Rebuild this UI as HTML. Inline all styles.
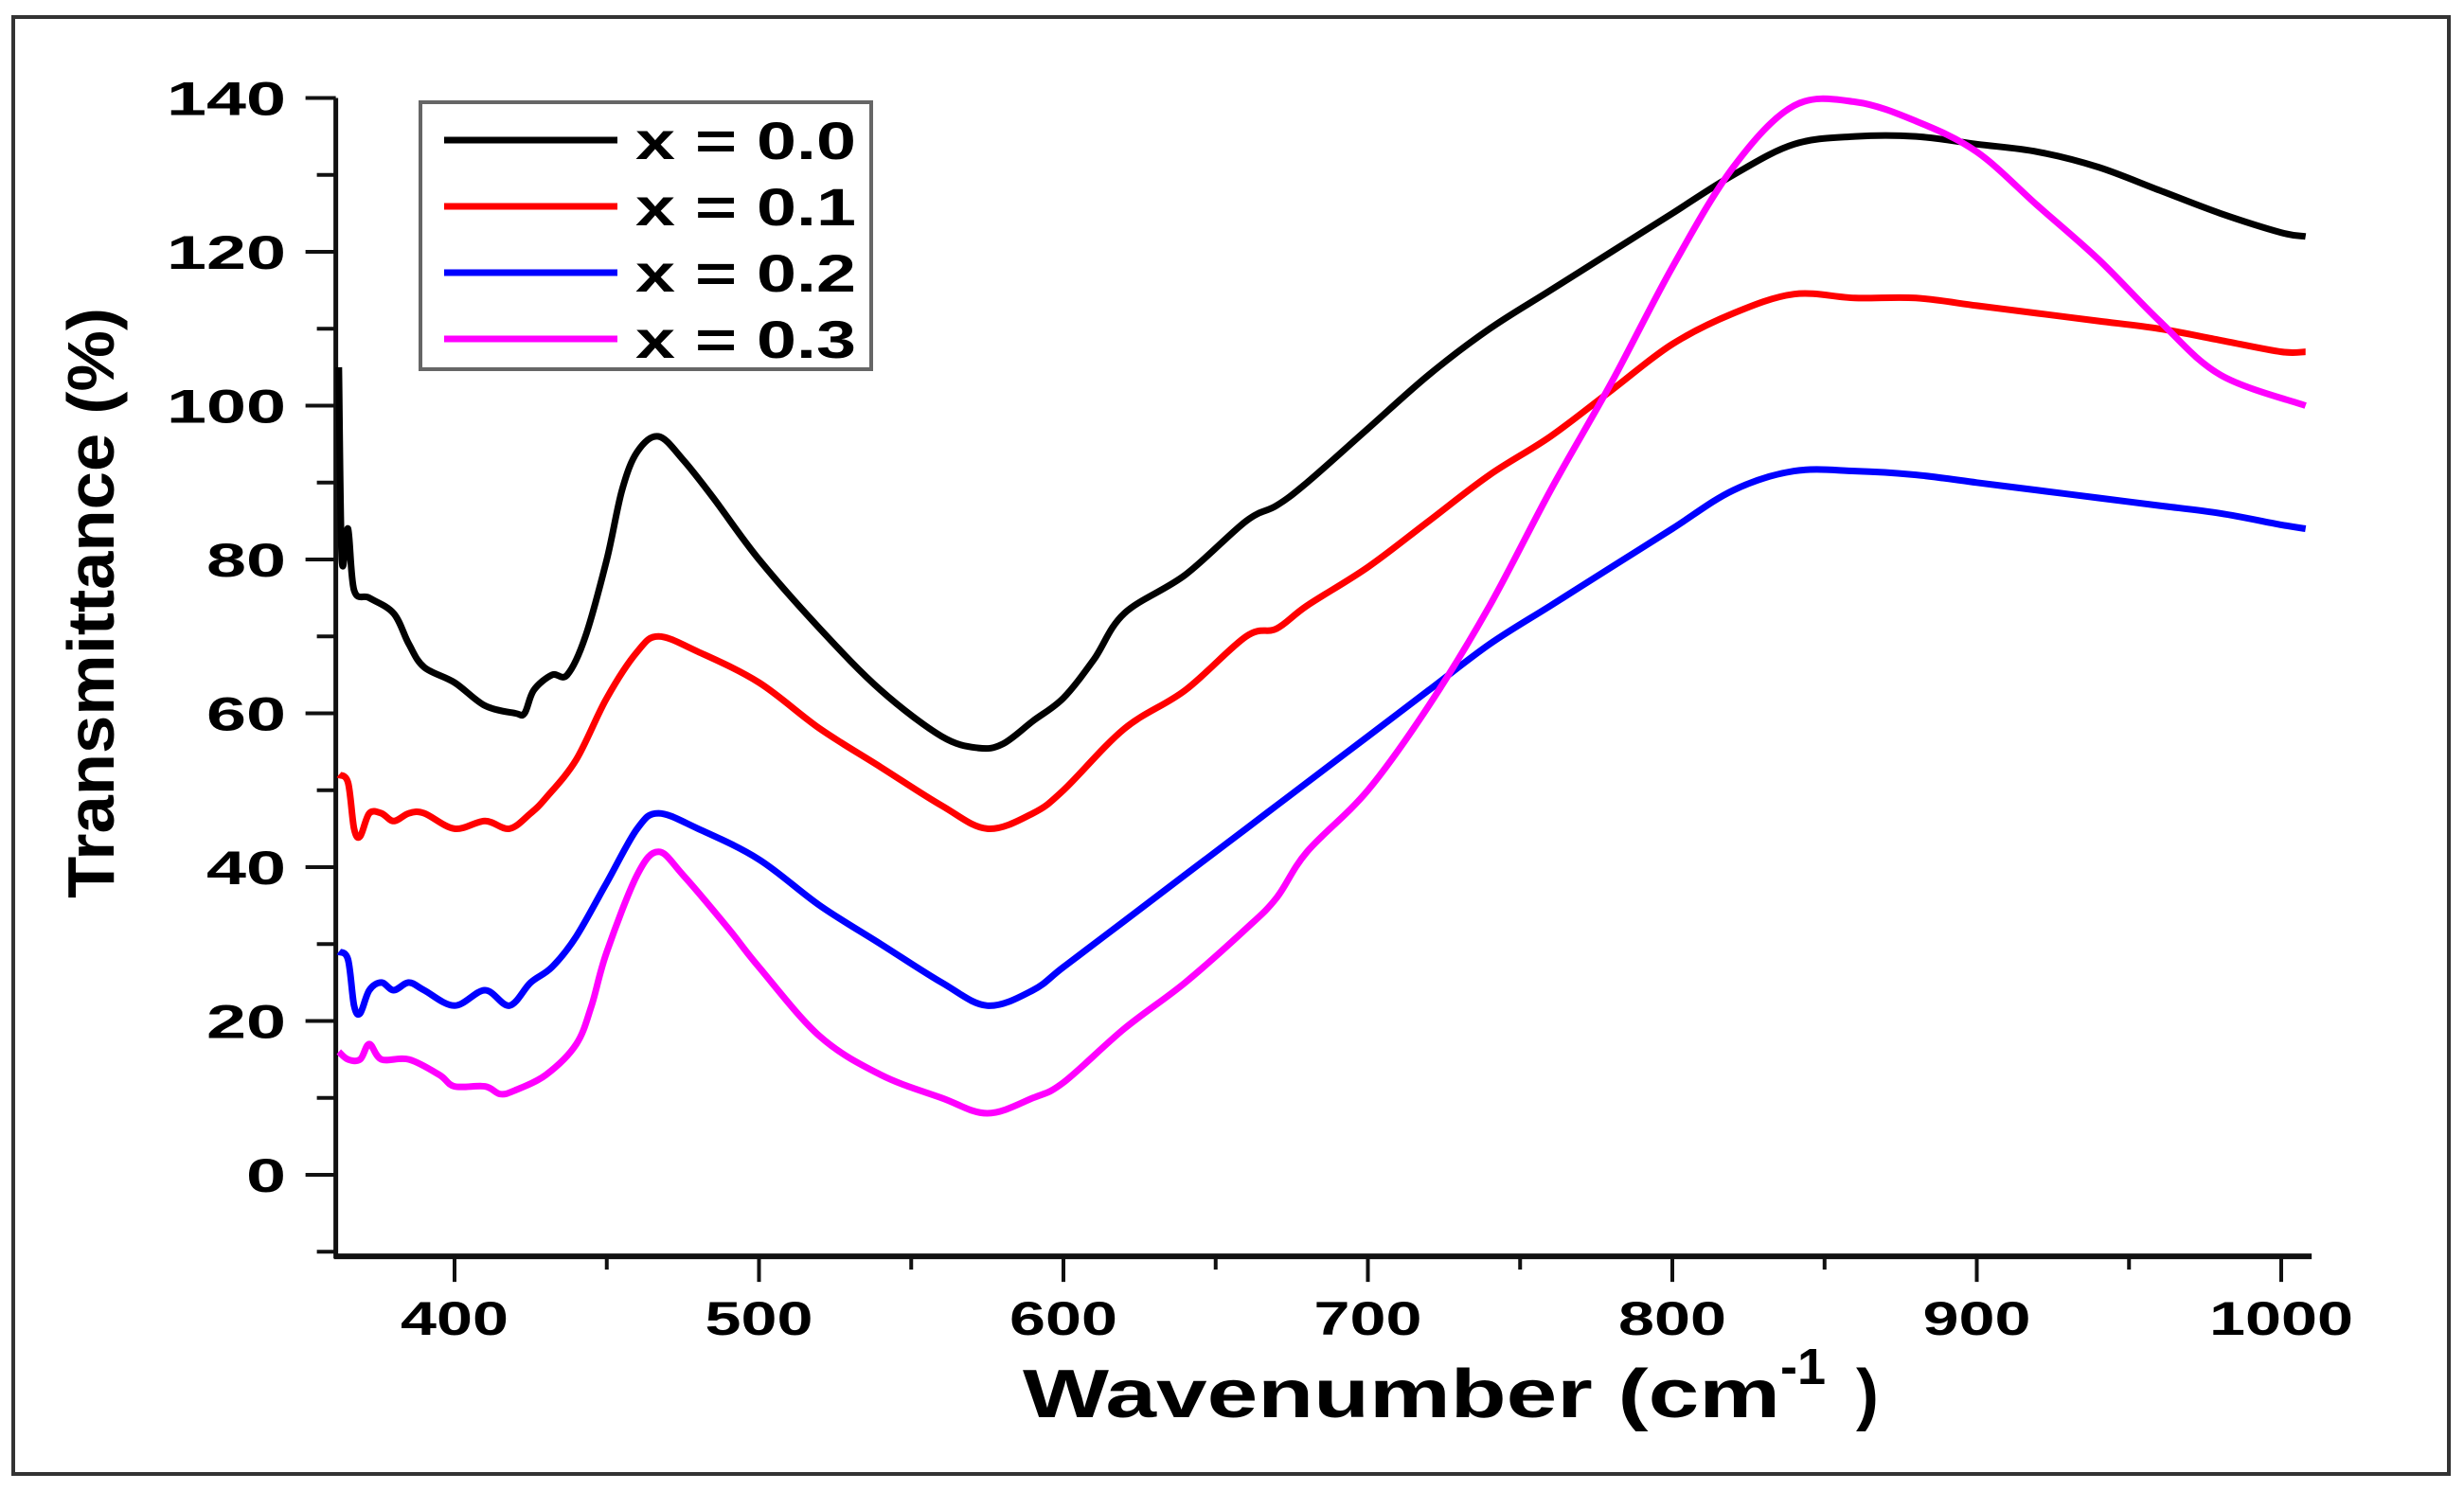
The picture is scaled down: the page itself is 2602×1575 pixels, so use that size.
<!DOCTYPE html>
<html><head><meta charset="utf-8"><style>
html,body{margin:0;padding:0;background:#fff}
svg{display:block}
text{font-family:"Liberation Sans",Arial,sans-serif;font-weight:bold}
</style></head><body>
<svg id="chart" width="2602" height="1575" viewBox="0 0 2602 1575" xmlns="http://www.w3.org/2000/svg">
<rect x="14" y="18" width="2572" height="1539" fill="#fff" stroke="#333" stroke-width="4"/>
<g id="axes"></g>
<g id="series"></g>
<text x="1080" y="1497" font-size="72" textLength="800" lengthAdjust="spacingAndGlyphs">Wavenumber (cm</text>
<text x="1880" y="1462" font-size="54">-1</text>
<text x="1960" y="1497" font-size="72">)</text>
<text transform="translate(120,637) rotate(-90)" font-size="70" text-anchor="middle" textLength="624" lengthAdjust="spacingAndGlyphs">Transmittance (%)</text>
<g>
<rect x="444" y="108" width="476" height="282" fill="#fff" stroke="#666" stroke-width="4"/>
<g id="legend"></g>
</g>
</svg>
<script>
const xTicks=[400,500,600,700,800,900,1000];
const yTicks=[0,20,40,60,80,100,120,140];
const seriesNames=["x = 0.0","x = 0.1","x = 0.2","x = 0.3"];
const seriesColors=["#000000","#ff0000","#0000ff","#ff00ff"];
const wn0=[362,363,365,367,372,380,385,390,400,410,420,423,426,432,437,443,450,455,460,467,475,485,500,520,540,560,572,580,590,600,610,620,640,660,670,680,700,720,740,760,780,800,820,840,860,880,900,920,940,960,980,1000,1008];
const t0=[105,80,84,76,75,73,69,66,64,61,60,60,63,65,65,70,80,89,94,96,93,88,80,71,63,57,55.5,56,59,62,67,73,78,85,87,90,97,104,110,115,120,125,130,134,135,135,134,133,131,128,125,122.5,122];
const wn1=[362,365,367,369,372,376,380,385,390,400,410,418,425,430,440,450,460,467,480,500,520,540,560,575,590,600,620,640,660,670,680,700,720,740,760,780,800,820,840,860,880,900,920,940,960,980,1000,1008];
const t1=[52,51,45,44,47,47,46,47,47,45,46,45,47,49,54,62,68,70,68,64,58,53,48,45,47,50,58,63,70,71,74,79,85,91,96,102,108,112,114.5,114,114,113,112,111,110,108.5,107,107];
const wn2=[362,365,367,369,372,376,380,385,390,400,410,418,425,432,440,450,460,467,480,500,520,540,560,575,590,600,620,640,660,670,680,700,720,740,760,780,800,820,840,860,880,900,920,940,960,980,1000,1008];
const t2=[29,28,22,21,24,25,24,25,24,22,24,22,25,27,31,38,45,47,45,41,35,30,25,22,24,27,33,39,45,48,51,57,63,69,74,79,84,89,91.5,91.5,91,90,89,88,87,86,84.5,84];
const wn3=[362,365,369,372,376,385,395,400,410,415,420,430,440,445,450,460,467,475,490,500,520,540,560,575,590,600,620,640,660,670,680,700,720,740,760,780,800,820,840,860,880,900,920,940,960,980,1008];
const t3=[16,15,15,17,15,15,13,11.5,11.5,10.5,11,13,17,22,29,39,42,39,32,27,18,13,10,8,10,12,19,25,32,36,42,50,61,74,89,103,118,131,139,139.5,137,133,126,119,111,104,100];
const allX=[wn0,wn1,wn2,wn3], allY=[t0,t1,t2,t3];
const NS="http://www.w3.org/2000/svg";
const X=v=>480+(v-400)*3.215;
const Y=v=>1241-v*8.125;
const axes=document.getElementById('axes');
function mk(tag,attrs,parent){const e=document.createElementNS(NS,tag);for(const k in attrs)e.setAttribute(k,attrs[k]);parent.appendChild(e);return e;}
const xl=X(361), xr=X(1010), yb=Y(-10.6), yt=Y(140);
let yl=mk('line',{x1:xl,y1:yt,x2:xl,y2:yb+2,stroke:'#111','stroke-width':5},axes);


let xa=mk('line',{x1:xl-2,y1:yb,x2:xr,y2:yb,stroke:'#111','stroke-width':6},axes);


for(let v=-10;v<=140;v+=10){
  const major=v%20===0;
  const t=mk('line',{x1:xl-(major?32:20),y1:Y(v),x2:xl,y2:Y(v),stroke:'#111','stroke-width':4},axes);
  
  
}
yTicks.forEach(v=>{
  const s=String(v);
  const t=mk('text',{x:302,y:Y(v)+18,'font-size':50,'text-anchor':'end',textLength:s.length*42,lengthAdjust:'spacingAndGlyphs'},axes);t.textContent=s;
  
  
});
for(let v=400;v<=1000;v+=50){
  const major=v%100===0;
  const t=mk('line',{x1:X(v),y1:yb,x2:X(v),y2:yb+(major?27:14),stroke:'#111','stroke-width':4},axes);
  
  
}
xTicks.forEach(v=>{
  const s=String(v);
  const t=mk('text',{x:X(v),y:1410,'font-size':50,'text-anchor':'middle',textLength:s.length*38,lengthAdjust:'spacingAndGlyphs'},axes);t.textContent=s;
  
  
});
function smooth(pts){
  let d='M'+pts[0][0].toFixed(1)+','+pts[0][1].toFixed(1);
  for(let i=0;i<pts.length-1;i++){
    const p0=pts[Math.max(0,i-1)],p1=pts[i],p2=pts[i+1],p3=pts[Math.min(pts.length-1,i+2)];
    const k=1/6;
    const c1=[p1[0]+(p2[0]-p0[0])*k,p1[1]+(p2[1]-p0[1])*k];
    const c2=[p2[0]-(p3[0]-p1[0])*k,p2[1]-(p3[1]-p1[1])*k];
    d+=' C'+c1[0].toFixed(1)+','+c1[1].toFixed(1)+' '+c2[0].toFixed(1)+','+c2[1].toFixed(1)+' '+p2[0].toFixed(1)+','+p2[1].toFixed(1);
  }
  return d;
}
const sg=document.getElementById('series');
allX.forEach((xs,i)=>{
  const pts=xs.map((w,j)=>[X(w),Y(allY[i][j])]);
  const p=mk('path',{d:smooth(pts),fill:'none',stroke:seriesColors[i],'stroke-width':7,'stroke-linejoin':'round'},sg);
  
  
});
const lg=document.getElementById('legend');
seriesNames.forEach((n,i)=>{
  const y=148+i*70;
  const l=mk('line',{x1:469,y1:y,x2:652,y2:y,stroke:seriesColors[i],'stroke-width':7},lg);
  
  
  const t=mk('text',{x:671,y:y+20,'font-size':56,textLength:233,lengthAdjust:'spacingAndGlyphs'},lg);t.textContent=n;
  
  
});
</script>
</body></html>
